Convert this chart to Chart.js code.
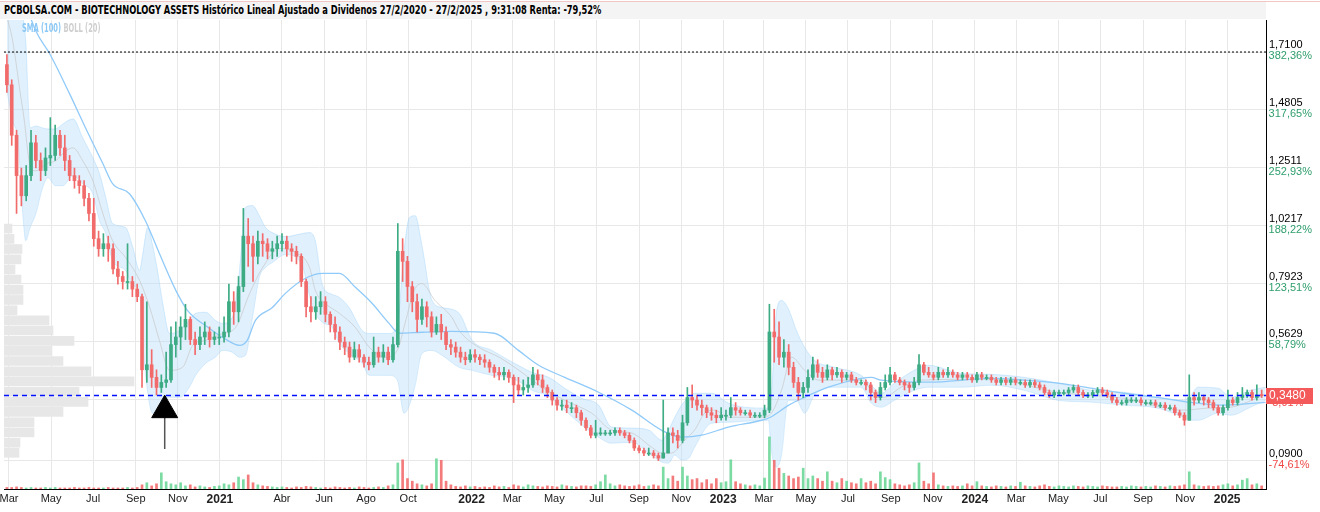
<!DOCTYPE html>
<html>
<head>
<meta charset="utf-8">
<title>BIOTECHNOLOGY ASSETS</title>
<script src="https://cdn.jsdelivr.net/npm/chart.js@4.4.1/dist/chart.umd.min.js"></script>
<style>
  html, body { margin: 0; padding: 0; background: #fff; }
  #wrap { position: relative; width: 1320px; height: 512px; overflow: hidden; background: #fff; }
  #chart { position: absolute; left: 0; top: 0; }
  #topline { position: absolute; left: 0; top: 1px; width: 1320px; height: 1px; background: #f0c6c6; }
  #titlebar { position: absolute; left: 0; top: 2px; width: 1266px; height: 17px; background: #f4f4f4; }
  #titlebar span { position: absolute; left: 4px; top: 0; display: inline-block; transform: scaleX(0.77); transform-origin: 0 0;
    font: bold 12px 'DejaVu Sans Condensed', sans-serif; color: #000; line-height: 17px; white-space: nowrap; }
  #legend { position: absolute; left: 22px; top: 21px; transform: scaleX(0.62); transform-origin: 0 0;
    font: bold 12px 'DejaVu Sans Condensed', sans-serif; white-space: nowrap; }
  #legend .sma { color: #8cc8f5; }
  #legend .boll { color: #cfcfcf; }
</style>
</head>
<body>
<div id="wrap">
  <canvas id="chart" width="1320" height="512"></canvas>
  <div id="topline"></div>
  <div id="titlebar"><span>PCBOLSA.COM - BIOTECHNOLOGY ASSETS Histórico Lineal Ajustado a Dividenos 27/2/2020 - 27/2/2025 , 9:31:08 Renta: -79,52%</span></div>
  <div id="legend"><span class="sma">SMA (100)</span> <span class="boll">BOLL (20)</span></div>
</div>
<script>
// weekly candles, week 0 = 27/2/2020
const firstOpen = 1.66;
const closes = [
  1.58,1.38,1.22,1.14,1.22,1.35,1.28,1.24,1.29,1.30,
  1.38,1.33,1.28,1.22,1.20,1.18,1.13,1.07,0.97,0.93,
  0.95,0.93,0.85,0.82,0.80,0.80,0.77,0.74,0.45,0.47,
  0.42,0.38,0.40,0.41,0.55,0.58,0.62,0.65,0.57,0.55,
  0.58,0.60,0.57,0.58,0.58,0.60,0.72,0.68,0.78,0.98,
  0.95,0.90,0.96,0.95,0.92,0.93,0.95,0.96,0.93,0.92,
  0.90,0.80,0.70,0.68,0.70,0.72,0.67,0.63,0.60,0.56,
  0.54,0.50,0.53,0.50,0.48,0.47,0.52,0.50,0.52,0.49,
  0.55,0.92,0.88,0.78,0.72,0.65,0.70,0.66,0.60,0.63,
  0.60,0.55,0.54,0.52,0.50,0.49,0.51,0.50,0.49,0.48,
  0.46,0.44,0.43,0.44,0.42,0.39,0.37,0.38,0.39,0.43,
  0.41,0.38,0.36,0.33,0.31,0.31,0.30,0.30,0.28,0.25,
  0.22,0.19,0.20,0.20,0.20,0.20,0.21,0.20,0.19,0.17,
  0.14,0.13,0.12,0.12,0.11,0.10,0.12,0.20,0.19,0.17,
  0.24,0.34,0.33,0.31,0.30,0.28,0.27,0.26,0.27,0.27,
  0.30,0.29,0.28,0.28,0.27,0.27,0.27,0.29,0.60,0.58,
  0.50,0.52,0.46,0.40,0.36,0.38,0.42,0.47,0.44,0.42,
  0.45,0.43,0.44,0.42,0.43,0.41,0.40,0.40,0.39,0.36,
  0.34,0.38,0.40,0.43,0.41,0.40,0.39,0.38,0.40,0.47,
  0.44,0.43,0.42,0.44,0.43,0.44,0.43,0.42,0.43,0.42,
  0.41,0.43,0.42,0.42,0.41,0.40,0.41,0.40,0.41,0.40,
  0.40,0.39,0.40,0.39,0.38,0.36,0.35,0.36,0.36,0.36,
  0.37,0.38,0.36,0.35,0.35,0.36,0.37,0.36,0.35,0.33,
  0.32,0.32,0.33,0.33,0.33,0.32,0.32,0.32,0.31,0.31,
  0.30,0.30,0.28,0.27,0.25,0.34,0.33,0.34,0.33,0.32,
  0.30,0.28,0.30,0.33,0.32,0.34,0.35,0.36,0.34,0.35,
  0.348
];
const highs = [
  1.70,1.60,1.40,1.25,1.26,1.40,1.38,1.31,1.33,1.45,
  1.42,1.40,1.38,1.30,1.25,1.22,1.20,1.15,1.13,1.00,
  0.99,0.98,0.95,0.88,0.84,0.95,0.82,0.79,0.75,0.72,
  0.53,0.45,0.43,0.52,0.62,0.64,0.66,0.71,0.66,0.60,
  0.62,0.64,0.62,0.60,0.62,0.66,0.79,0.76,0.82,1.09,
  1.05,0.98,1.00,0.99,0.97,0.96,0.98,0.99,0.98,0.95,
  0.94,0.91,0.81,0.74,0.74,0.76,0.74,0.68,0.66,0.62,
  0.58,0.56,0.56,0.55,0.51,0.50,0.58,0.54,0.55,0.54,
  0.58,1.03,0.97,0.90,0.80,0.75,0.73,0.72,0.68,0.66,
  0.67,0.62,0.57,0.56,0.54,0.52,0.53,0.53,0.51,0.51,
  0.49,0.47,0.46,0.46,0.45,0.43,0.42,0.41,0.42,0.46,
  0.45,0.43,0.39,0.37,0.34,0.33,0.33,0.32,0.31,0.29,
  0.26,0.23,0.25,0.22,0.21,0.21,0.22,0.22,0.21,0.20,
  0.18,0.15,0.14,0.14,0.13,0.12,0.33,0.22,0.22,0.21,
  0.27,0.38,0.39,0.35,0.33,0.31,0.30,0.29,0.30,0.29,
  0.34,0.32,0.30,0.29,0.29,0.28,0.28,0.31,0.71,0.69,
  0.64,0.57,0.55,0.48,0.42,0.40,0.45,0.50,0.49,0.46,
  0.47,0.46,0.46,0.45,0.44,0.44,0.42,0.41,0.41,0.40,
  0.37,0.40,0.43,0.46,0.44,0.42,0.41,0.40,0.42,0.51,
  0.48,0.46,0.44,0.46,0.45,0.46,0.45,0.44,0.44,0.44,
  0.43,0.44,0.44,0.43,0.43,0.42,0.42,0.42,0.42,0.42,
  0.41,0.41,0.41,0.41,0.40,0.39,0.37,0.37,0.37,0.37,
  0.38,0.39,0.39,0.37,0.36,0.37,0.38,0.38,0.37,0.36,
  0.34,0.33,0.34,0.34,0.34,0.34,0.33,0.33,0.33,0.32,
  0.32,0.31,0.31,0.29,0.28,0.43,0.36,0.36,0.35,0.34,
  0.33,0.31,0.31,0.37,0.34,0.36,0.38,0.37,0.37,0.39,
  0.37
];
const lows = [
  1.55,1.34,1.07,1.10,1.12,1.20,1.25,1.20,1.22,1.26,
  1.28,1.30,1.24,1.20,1.17,1.15,1.10,1.04,0.94,0.90,
  0.90,0.88,0.83,0.79,0.77,0.77,0.74,0.72,0.38,0.40,
  0.38,0.35,0.36,0.38,0.40,0.50,0.53,0.57,0.55,0.51,
  0.53,0.55,0.54,0.55,0.55,0.56,0.58,0.63,0.64,0.76,
  0.86,0.80,0.87,0.90,0.89,0.89,0.90,0.92,0.90,0.88,
  0.87,0.78,0.66,0.64,0.65,0.67,0.64,0.60,0.57,0.53,
  0.51,0.48,0.49,0.48,0.46,0.45,0.46,0.48,0.48,0.47,
  0.48,0.54,0.80,0.72,0.68,0.60,0.63,0.62,0.58,0.59,
  0.57,0.53,0.51,0.50,0.48,0.47,0.48,0.48,0.47,0.46,
  0.44,0.42,0.41,0.41,0.40,0.32,0.35,0.35,0.36,0.38,
  0.39,0.36,0.34,0.31,0.29,0.29,0.28,0.28,0.26,0.23,
  0.21,0.18,0.18,0.19,0.19,0.19,0.19,0.19,0.18,0.16,
  0.13,0.12,0.11,0.11,0.10,0.09,0.10,0.12,0.16,0.14,
  0.16,0.23,0.30,0.29,0.27,0.26,0.25,0.24,0.25,0.25,
  0.26,0.27,0.27,0.27,0.26,0.26,0.26,0.26,0.28,0.48,
  0.47,0.46,0.43,0.38,0.33,0.34,0.36,0.41,0.42,0.40,
  0.41,0.41,0.42,0.40,0.41,0.40,0.39,0.39,0.37,0.33,
  0.32,0.33,0.37,0.39,0.40,0.39,0.37,0.36,0.37,0.39,
  0.43,0.42,0.41,0.41,0.42,0.42,0.42,0.41,0.41,0.41,
  0.40,0.40,0.41,0.41,0.40,0.39,0.39,0.39,0.39,0.39,
  0.39,0.38,0.38,0.38,0.37,0.35,0.34,0.34,0.35,0.35,
  0.35,0.36,0.35,0.34,0.34,0.34,0.35,0.35,0.34,0.32,
  0.31,0.31,0.31,0.32,0.32,0.31,0.31,0.31,0.30,0.30,
  0.29,0.29,0.27,0.26,0.23,0.25,0.31,0.32,0.31,0.30,
  0.29,0.27,0.27,0.29,0.31,0.31,0.33,0.34,0.33,0.33,
  0.34
];
const volumes = [
  3,3,4,3,2,3,2,2,3,2,
  3,2,2,2,3,2,2,3,2,2,
  2,3,2,2,2,3,2,3,8,12,
  6,10,31,14,10,8,12,6,8,4,
  6,4,3,5,6,10,8,12,23,18,
  27,12,8,6,5,4,3,4,3,2,
  4,3,5,4,3,2,3,2,4,3,
  2,3,2,4,3,2,3,4,3,6,
  8,50,56,20,15,10,8,6,10,58,
  55,15,8,5,4,6,4,5,3,4,
  3,6,4,5,3,8,6,4,8,6,
  5,4,6,5,4,8,6,5,4,6,
  6,5,8,14,27,10,6,8,6,5,
  6,8,5,6,8,6,42,20,25,15,
  42,25,18,20,12,18,10,20,12,14,
  56,14,10,8,6,8,6,21,100,55,
  40,30,25,20,23,40,20,25,20,15,
  33,15,12,20,15,12,10,20,12,15,
  10,33,22,18,10,8,6,8,12,50,
  15,10,31,8,6,5,6,5,6,10,
  6,14,6,5,4,6,5,4,6,5,
  13,6,5,4,6,8,5,4,6,5,
  4,6,5,4,6,5,4,6,5,4,
  4,5,4,6,5,4,5,4,6,5,
  4,6,5,6,8,33,8,6,5,6,
  5,6,8,10,6,8,17,20,8,10,
  6
];

// SMA (100)
const smaWeeks = [3.0,6.0,8.9,13.0,16.3,19.9,21.9,25.4,28.7,31.6,
  35.0,37.4,42.0,45.0,48.2,49.8,51.5,55.0,57.7,61.8,
  65.4,68.9,72.2,75.7,79.2,81.3,86.0,92.2,101.0,106.0,
  110.2,115.6,122.6,129.5,135.7,139.8,144.0,149.5,156.4,158.2,
  162.0,165.3,170.2,177.0,179.1,181.2,191.0,204.0,210.8,217.8,
  224.6,231.4,239.7,245.3,252.1,260.8];
const smaValues = [1.95,1.793,1.702,1.544,1.409,1.267,1.188,1.148,1.041,0.911,
  0.765,0.686,0.614,0.575,0.547,0.567,0.646,0.697,0.753,0.812,
  0.832,0.832,0.777,0.713,0.634,0.595,0.599,0.602,0.595,0.527,
  0.468,0.42,0.361,0.29,0.21,0.183,0.191,0.223,0.25,0.262,
  0.31,0.341,0.381,0.416,0.42,0.409,0.401,0.416,0.409,0.397,
  0.377,0.357,0.337,0.321,0.31,0.321];

// BOLL (20) bands
const bandWeeks = [0,1.2,2.3,3.3,3.9,4.8,6.0,7.4,8.5,10.1,
  11.6,13.7,15.7,17.8,19.2,20.5,21.9,24.6,26.1,27.5,
  28.1,29.2,30.2,31.2,32.3,33.7,35.8,37.8,39.1,41.2,
  43.2,44.7,46.7,48.2,49.4,50.9,52.3,53.6,55.0,57.7,
  61.2,62.7,63.9,65.4,67.4,68.9,70.9,73.6,75.1,79.2,
  80.9,82.3,83.4,84.6,86.0,88.1,90.2,93.7,96.4,100.5,
  104.0,106.7,108.8,112.3,115.6,119.1,122.6,125.3,129.5,133.0,
  135.7,137.1,138.4,139.8,141.3,142.5,146.0,149.5,152.8,157.8,
  158.4,159.5,160.5,161.9,163.6,165.3,167.3,171.5,177.0,179.1,
  181.2,183.9,188.0,190.9,197.7,203.9,210.8,217.8,224.6,231.4,
  238.5,243.8,245.3,246.8,251.0,253.6,257.7,260.8];
const bandUpper = [1.90,1.90,1.90,1.85,1.754,1.409,1.417,1.409,1.405,1.405,
  1.425,1.445,1.370,1.291,1.227,1.132,1.030,1.014,0.935,0.844,
  0.903,1.014,0.943,0.844,0.713,0.594,0.606,0.646,0.674,0.678,
  0.646,0.634,0.658,0.844,1.093,1.101,1.061,1.014,0.994,0.978,
  0.990,0.994,0.962,0.785,0.749,0.737,0.697,0.606,0.594,0.594,
  0.626,0.923,1.053,1.061,0.943,0.725,0.697,0.674,0.567,0.527,
  0.488,0.460,0.440,0.420,0.377,0.337,0.310,0.223,0.219,0.211,
  0.171,0.211,0.262,0.310,0.341,0.357,0.357,0.318,0.302,0.298,
  0.349,0.685,0.725,0.693,0.606,0.539,0.488,0.460,0.428,0.389,
  0.357,0.397,0.448,0.468,0.436,0.432,0.420,0.397,0.369,0.361,
  0.341,0.329,0.349,0.381,0.377,0.341,0.369,0.381];
const bandLower = [1.556,1.437,1.358,1.069,0.962,1.014,1.069,1.172,1.212,1.180,
  1.180,1.220,1.188,1.148,1.041,0.990,0.883,0.844,0.785,0.753,
  0.567,0.357,0.278,0.290,0.310,0.341,0.341,0.381,0.428,0.476,
  0.500,0.527,0.520,0.500,0.507,0.658,0.816,0.856,0.875,0.907,
  0.864,0.745,0.674,0.638,0.618,0.555,0.515,0.476,0.428,0.428,
  0.409,0.278,0.310,0.389,0.515,0.527,0.507,0.460,0.448,0.428,
  0.420,0.397,0.369,0.345,0.290,0.231,0.183,0.159,0.163,0.120,
  0.084,0.080,0.112,0.092,0.100,0.143,0.238,0.242,0.246,0.250,
  0.131,0.064,0.112,0.329,0.329,0.278,0.349,0.381,0.381,0.318,
  0.302,0.329,0.369,0.381,0.381,0.389,0.369,0.329,0.322,0.310,
  0.298,0.262,0.250,0.250,0.278,0.270,0.302,0.329];
const midWeeks = [0,1.2,2.7,3.7,4.3,5.0,6.0,8.1,10.1,12.2,
  13.7,15.7,17.8,19.9,21.9,24.6,27.5,29.6,31.6,33.7,
  36.4,38.5,41.2,44.7,47.4,50.3,53.0,56.5,59.8,62.7,
  63.9,66.0,68.9,72.2,75.1,78.4,80.9,82.5,84.4,86.0,
  88.7,92.2,93.7,97.8,102.0,106.1,110.9,115.6,121.2,125.3,
  129.5,133.6,135.7,137.7,140.4,142.5,144.6,146.6,149.5,156.4,
  158.4,160.5,162.6,165.3,168.2,177.0,179.7,181.8,185.3,189.5,
  203.9,217.8,231.4,243.8,248.8,253.6,260.4];
const midValues = [1.85,1.754,1.556,1.425,1.318,1.247,1.239,1.267,1.279,1.318,
  1.330,1.279,1.200,1.069,0.962,0.895,0.804,0.697,0.567,0.448,
  0.460,0.547,0.567,0.594,0.618,0.753,0.856,0.931,0.915,0.856,
  0.765,0.713,0.674,0.618,0.539,0.500,0.527,0.634,0.765,0.792,
  0.725,0.658,0.606,0.539,0.500,0.448,0.381,0.329,0.278,0.211,
  0.199,0.143,0.120,0.120,0.171,0.211,0.278,0.290,0.262,0.262,
  0.278,0.369,0.500,0.448,0.409,0.409,0.357,0.341,0.381,0.409,
  0.413,0.361,0.337,0.290,0.298,0.302,0.349];

// volume by price, left side
const profileLevels = [1.010,0.969,0.929,0.888,0.848,0.808,0.767,0.727,0.686,0.646,0.606,0.565,
  0.525,0.485,0.444,0.404,0.363,0.323,0.283,0.242,0.202,0.161,0.121];
const profileWidths = [8,10,18,17,11,17,19,19,13,45,49,70,48,59,87,130,75,84,59,30,30,16,15];

const maxPrice = 1.71;
const lastPrice = 0.348;
const lastPriceLabel = '0,3480';
const arrowWeek = 32.7;
const arrowPrice = 0.290;
const arrowStem = [0.266, 0.136];

// the 0,3335 price label sits under the last price tag, so it stays blank
const priceTicks = [1.71, 1.4805, 1.2511, 1.0217, 0.7923, 0.5629, 0.3335, 0.09];
const priceTickLabels = ['1,7100','1,4805','1,2511','1,0217','0,7923','0,5629','','0,0900'];
const pctTickLabels = ['382,36%','317,65%','252,93%','188,22%','123,51%','58,79%','-5,91%','-74,61%'];

const tickDates = ['2020-03-01','2020-05-01','2020-07-01','2020-09-01','2020-11-01',
  '2021-01-01','2021-04-01','2021-06-01','2021-08-01','2021-10-01',
  '2022-01-01','2022-03-01','2022-05-01','2022-07-01','2022-09-01','2022-11-01',
  '2023-01-01','2023-03-01','2023-05-01','2023-07-01','2023-09-01','2023-11-01',
  '2024-01-01','2024-03-01','2024-05-01','2024-07-01','2024-09-01','2024-11-01',
  '2025-01-01'];
const tickLabels = ['Mar','May','Jul','Sep','Nov','2021','Abr','Jun','Ago','Oct',
  '2022','Mar','May','Jul','Sep','Nov','2023','Mar','May','Jul','Sep','Nov',
  '2024','Mar','May','Jul','Sep','Nov','2025'];

const startDay = Date.UTC(2020, 1, 27);
const tickWeeks = tickDates.map(d => (Date.parse(d) - startDay) / (7 * 864e5));
const xMin = -0.6, xMax = 260.9;
const yMin = -0.0226, yMax = 1.837;

const upColor = '#3dab83';
const downColor = '#f26b6b';
const upVol = 'rgba(90,210,140,0.8)';
const downVol = 'rgba(242,100,100,0.85)';
const green = '#2e9e6c';
const red = '#f04848';
const font = 'Liberation Sans';

const opens = [firstOpen].concat(closes.slice(0, -1));
const isUp = i => closes[i] >= opens[i];
const pts = (xs, ys) => xs.map((x, i) => ({ x: x, y: ys[i] }));

const priceTag = {
  id: 'priceTag',
  afterDraw(chart) {
    const y = chart.scales.y.getPixelForValue(lastPrice);
    const left = chart.chartArea.right;
    const ctx = chart.ctx;
    ctx.save();
    ctx.fillStyle = '#f45a5a';
    ctx.fillRect(left, Math.round(y) - 8, 47, 16);
    ctx.fillStyle = '#fff';
    ctx.font = '12px "' + font + '"';
    ctx.textBaseline = 'middle';
    ctx.fillText(lastPriceLabel, left + 3, y + 0.5);
    ctx.restore();
  }
};

const datasets = [
  {
    type: 'bar', label: 'body',
    data: closes.map((c, i) => ({ x: i, y: [opens[i], c] })),
    backgroundColor: ctx => isUp(ctx.dataIndex) ? upColor : downColor,
    barThickness: 3, minBarLength: 1, grouped: false, order: 1,
    xAxisID: 'x', yAxisID: 'y'
  },
  {
    type: 'bar', label: 'wick',
    data: closes.map((c, i) => ({ x: i, y: [lows[i], highs[i]] })),
    backgroundColor: ctx => isUp(ctx.dataIndex) ? upColor : downColor,
    barThickness: 1, grouped: false, order: 2,
    xAxisID: 'x', yAxisID: 'y'
  },
  {
    type: 'bar', label: 'volume',
    data: volumes.map((v, i) => ({ x: i, y: v })),
    backgroundColor: ctx => isUp(ctx.dataIndex) ? upVol : downVol,
    barThickness: 2, grouped: false, order: 3,
    xAxisID: 'x', yAxisID: 'y2'
  },
  {
    type: 'line', label: 'SMA (100)',
    data: pts(smaWeeks, smaValues),
    borderColor: '#90caf9', borderWidth: 1.3, pointRadius: 0,
    cubicInterpolationMode: 'monotone', order: 4, fill: false
  },
  {
    type: 'line', label: 'max',
    data: [{ x: xMin, y: maxPrice }, { x: xMax, y: maxPrice }],
    borderColor: '#000', borderWidth: 1, borderDash: [2, 2], pointRadius: 0, order: 0, fill: false
  },
  {
    type: 'line', label: 'last',
    data: [{ x: xMin, y: lastPrice }, { x: xMax, y: lastPrice }],
    borderColor: '#0010ff', borderWidth: 1.5, borderDash: [5, 4], pointRadius: 0, order: 0, fill: false
  },
  {
    type: 'line', label: 'arrow',
    data: [{ x: arrowWeek, y: arrowPrice }],
    showLine: false, pointStyle: 'triangle', pointRadius: 15,
    backgroundColor: '#000', borderColor: '#000', borderWidth: 1, order: 0, clip: false
  },
  {
    type: 'line', label: 'stem',
    data: [{ x: arrowWeek, y: arrowStem[0] }, { x: arrowWeek, y: arrowStem[1] }],
    borderColor: '#555', borderWidth: 1.5, pointRadius: 0, order: 0, fill: false
  },
  {
    type: 'line', label: 'BOLL mid',
    data: pts(midWeeks, midValues),
    borderColor: 'rgba(200,200,200,0.7)', borderWidth: 1, pointRadius: 0,
    cubicInterpolationMode: 'monotone', order: 6, fill: false
  },
  {
    type: 'line', label: 'BOLL up',
    data: pts(bandWeeks, bandUpper),
    borderColor: 'rgba(144,202,249,0.35)', borderWidth: 1, pointRadius: 0,
    backgroundColor: 'rgba(187,222,251,0.45)',
    cubicInterpolationMode: 'monotone', order: 7, fill: '+1'
  },
  {
    type: 'line', label: 'BOLL low',
    data: pts(bandWeeks, bandLower),
    borderColor: 'rgba(144,202,249,0.35)', borderWidth: 1, pointRadius: 0,
    cubicInterpolationMode: 'monotone', order: 7, fill: false
  },
  {
    type: 'bar', label: 'profile', indexAxis: 'y',
    data: profileLevels.map((p, i) => ({ x: profileWidths[i], y: p })),
    backgroundColor: '#e7e7e7', barThickness: 9, grouped: false, order: 10,
    xAxisID: 'xp', yAxisID: 'y'
  }
];

new Chart(document.getElementById('chart'), {
  type: 'line',
  data: { datasets: datasets },
  options: {
    responsive: false,
    animation: false,
    devicePixelRatio: 1,
    events: [],
    layout: { autoPadding: false, padding: { left: 4, top: 20, right: 0, bottom: 0 } },
    plugins: { legend: { display: false }, tooltip: { enabled: false }, title: { display: false } },
    scales: {
      x: {
        type: 'linear', axis: 'x', position: 'bottom', min: xMin, max: xMax, offset: false,
        afterBuildTicks: s => { s.ticks = tickWeeks.map(v => ({ value: v })); },
        afterFit: s => { s.height = 23; s.paddingLeft = 0; s.paddingRight = 0; },
        grid: { color: '#e8e8e8', drawTicks: false, offset: false },
        border: { color: '#000' },
        ticks: {
          autoSkip: false, maxRotation: 0, padding: 3, color: '#222',
          callback: (v, i) => tickLabels[i],
          font: c => /^\d{4}$/.test(tickLabels[c.index] || '')
            ? { family: font, size: 12, weight: 'bold' }
            : { family: font, size: 11 }
        }
      },
      y: {
        type: 'linear', axis: 'y', position: 'right', min: yMin, max: yMax, offset: false, weight: 1,
        afterBuildTicks: s => { s.ticks = priceTicks.map(v => ({ value: v })); },
        afterFit: s => { s.width = 54; s.paddingTop = 0; s.paddingBottom = 0; },
        grid: { color: '#e8e8e8', drawTicks: false, offset: false },
        border: { color: '#000' },
        ticks: {
          autoSkip: false, padding: 3, labelOffset: -7, color: '#000',
          font: { family: font, size: 11 },
          callback: (v, i) => priceTickLabels[i]
        }
      },
      yp: {
        type: 'linear', axis: 'y', position: 'right', min: yMin, max: yMax, offset: false, weight: 0,
        afterBuildTicks: s => { s.ticks = priceTicks.map(v => ({ value: v })); },
        afterFit: s => { s.width = 0; s.paddingTop = 0; s.paddingBottom = 0; },
        grid: { display: false, drawTicks: false },
        border: { display: false },
        ticks: {
          autoSkip: false, mirror: true, crossAlign: 'far', padding: 46, labelOffset: 4,
          color: c => (pctTickLabels[c.index] || '').charAt(0) === '-' ? red : green,
          font: { family: font, size: 11 },
          callback: (v, i) => pctTickLabels[i]
        }
      },
      y2: { type: 'linear', axis: 'y', display: false, min: 0, max: 900 },
      xp: { type: 'linear', axis: 'x', display: false, min: 0, max: 1262, offset: false }
    }
  },
  plugins: [priceTag]
});
</script>
</body>
</html>
